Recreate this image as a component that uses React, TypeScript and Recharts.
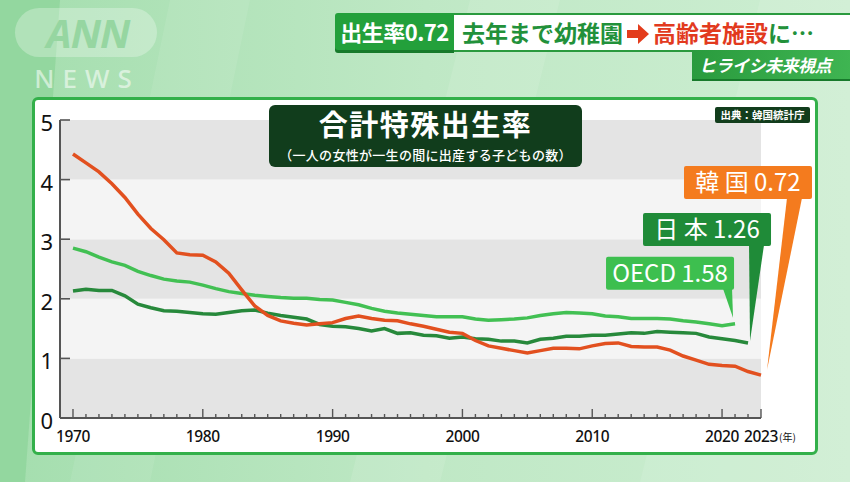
import React from 'react';
import { LineChart, Line, XAxis, YAxis, ReferenceArea, ReferenceDot } from 'recharts';

const years: number[] = [];
for (let y = 1970; y <= 2023; y++) years.push(y);

const koreaTFR = [
  4.43, 4.28, 4.13, 3.93, 3.70, 3.42, 3.18, 2.99, 2.77, 2.74,
  2.73, 2.62, 2.43, 2.15, 1.88, 1.72, 1.63, 1.59, 1.56, 1.58,
  1.60, 1.67, 1.71, 1.67, 1.64, 1.63, 1.58, 1.54, 1.49, 1.44,
  1.42, 1.30, 1.21, 1.17, 1.13, 1.09, 1.13, 1.17, 1.17, 1.16,
  1.21, 1.25, 1.26, 1.20, 1.19, 1.19, 1.14, 1.04, 0.97, 0.90,
  0.88, 0.87, 0.78, 0.72,
];
const japanTFR = [
  2.13, 2.16, 2.14, 2.14, 2.05, 1.91, 1.85, 1.80, 1.79, 1.77,
  1.75, 1.74, 1.77, 1.80, 1.81, 1.76, 1.72, 1.69, 1.66, 1.57,
  1.54, 1.53, 1.50, 1.46, 1.50, 1.42, 1.43, 1.39, 1.38, 1.34,
  1.36, 1.33, 1.32, 1.29, 1.29, 1.26, 1.32, 1.34, 1.37, 1.37,
  1.39, 1.39, 1.41, 1.43, 1.42, 1.45, 1.44, 1.43, 1.42, 1.36,
  1.33, 1.30, 1.26,
];
const oecdTFR = [
  2.85, 2.79, 2.70, 2.62, 2.56, 2.46, 2.39, 2.33, 2.30, 2.28,
  2.23, 2.17, 2.12, 2.09, 2.06, 2.04, 2.02, 2.01, 2.01, 1.99,
  1.98, 1.94, 1.90, 1.84, 1.79, 1.76, 1.74, 1.72, 1.70, 1.70,
  1.70, 1.66, 1.64, 1.65, 1.66, 1.68, 1.72, 1.75, 1.77, 1.76,
  1.75, 1.71, 1.70, 1.67, 1.67, 1.67, 1.66, 1.63, 1.61, 1.58,
  1.55, 1.58,
];
const yTicks = [0, 1, 2, 3, 4, 5];
const xLabelYears = [1970, 1980, 1990, 2000, 2010, 2020, 2023];
const countryNames = { korea: '韓 国', japan: '日 本', oecd: 'OECD' };

const data = years.map((year, i) => ({
  year,
  korea: i < koreaTFR.length ? koreaTFR[i] : null,
  japan: i < japanTFR.length ? japanTFR[i] : null,
  oecd: i < oecdTFR.length ? oecdTFR[i] : null,
}));

const lastOf = (arr: number[]) => ({ year: years[arr.length - 1], value: arr[arr.length - 1] });

const JP = '"Noto Sans CJK JP", "Noto Sans", sans-serif';
const NUM = '"Noto Sans", "DejaVu Sans", sans-serif';

const YTick = (props: any) => {
  const { x, y, payload } = props;
  return (
    <g>
      <line x1={x} x2={x + 10} y1={y} y2={y} stroke="#555" strokeWidth={1.6} />
      <text x={x - 7} y={y + 11} textAnchor="end" fontSize={22} fill="#111" fontFamily={NUM}>
        {payload.value}
      </text>
    </g>
  );
};

const XTick = (props: any) => {
  const { x, y, payload } = props;
  const v = payload.value as number;
  const major = v % 10 === 0 || v === 2023;
  const labeled = xLabelYears.includes(v);
  return (
    <g>
      <line x1={x} x2={x} y1={y} y2={y - (major ? 9 : 4)} stroke="#555" strokeWidth={1.4} />
      {labeled && (
        <text x={x} y={y + 24} textAnchor="middle" fontSize={15.5} fill="#111" fontFamily={NUM}
          fontWeight={500} letterSpacing={-0.4}>
          {v}
        </text>
      )}
      {v === 2023 && (
        <text x={x + 18} y={y + 23} textAnchor="start" fontSize={10} fill="#111" fontFamily={JP}>
          (年)
        </text>
      )}
    </g>
  );
};

const makeCallout = (text: string, fill: string, box: number[], base: number[], tip: number[]) => (p: any) => {
  const cx = p.cx;
  const cy = p.cy;
  const [l, t, r, b] = box;
  return (
    <g>
      <polygon
        points={`${cx + base[0]},${cy + b - 1} ${cx + base[1]},${cy + b - 1} ${cx + tip[0]},${cy + tip[1]}`}
        fill={fill}
      />
      <rect x={cx + l} y={cy + t} width={r - l} height={b - t} fill={fill} rx={2} />
      <text
        x={cx + (l + r) / 2}
        y={cy + (t + b) / 2 + 8.5}
        textAnchor="middle"
        fill="#fff"
        fontSize={24}
        fontFamily={JP}
        fontWeight={400}
      >
        {text}
      </text>
    </g>
  );
};

export default function App() {
  const kLast = lastOf(koreaTFR);
  const jLast = lastOf(japanTFR);
  const oLast = lastOf(oecdTFR);
  const bandFill = (i: number) => (i % 2 === 0 ? '#e4e4e4' : '#f4f4f4');
  const bands = yTicks.slice(0, -1).map((v, i) => ({ y1: v, y2: yTicks[i + 1] }));

  return (
    <div style={{ position: 'absolute', left: 0, top: 0, width: 850, height: 482, overflow: 'hidden' }}>
      {/* background */}
      <svg width={850} height={482} style={{ position: 'absolute', left: 0, top: 0 }}>
        <defs>
          <linearGradient id="bg" x1="0" y1="0" x2="1" y2="0">
            <stop offset="0" stopColor="#a4deae" />
            <stop offset="0.5" stopColor="#bfe8c5" />
            <stop offset="1" stopColor="#cdeed2" />
          </linearGradient>
        </defs>
        <rect x={0} y={0} width={850} height={482} fill="url(#bg)" />
        <polygon points="0,0 60,0 25,482 0,482" fill="#8fd59b" opacity={0.8} />
        <polygon points="170,0 250,0 150,482 70,482" fill="#ffffff" opacity={0.08} />
        <polygon points="470,0 560,0 440,482 350,482" fill="#ffffff" opacity={0.1} />
        <polygon points="760,0 850,0 850,482 640,482" fill="#ffffff" opacity={0.1} />
        {/* ANN logo */}
        <rect x={15} y={8} width={142} height={49} rx={24.5} fill="#ffffff" opacity={0.28} />
        <text x={88} y={48} textAnchor="middle" fontSize={40} fontStyle="italic" fontWeight={700}
          fill="#96d6a1" fontFamily={NUM} letterSpacing={-1}>ANN</text>
        <text x={87} y={88} textAnchor="middle" fontSize={26} fill="#ffffff" opacity={0.55}
          fontFamily={NUM} fontWeight={500} letterSpacing={8}>NEWS</text>
      </svg>

      {/* top banner */}
      <div style={{ position: 'absolute', left: 335, top: 13, width: 119, height: 37, background: '#23a03b',
        borderRadius: '3px 0 0 3px', boxShadow: '0 3px 0 #177a2b', color: '#fff', fontFamily: JP, fontWeight: 700,
        fontSize: 22, lineHeight: '37px', textAlign: 'center', letterSpacing: -0.5 }}>出生率0.72</div>
      <div style={{ position: 'absolute', left: 454, top: 13, width: 400, height: 35, background: '#fff',
        borderTop: '2px solid #2a9a3e', boxShadow: '0 2px 0 #2a9a3e', fontFamily: JP, fontWeight: 700,
        fontSize: 23, lineHeight: '35px', whiteSpace: 'nowrap' }}>
        <span style={{ marginLeft: 8, color: '#22913a' }}>去年まで幼稚園</span>
        <svg width={24} height={20} style={{ margin: '0 3px 0 3px', verticalAlign: '-2px' }}>
          <polygon points="1,6 12,6 12,0 23,10 12,20 12,14 1,14" fill="#e33c1c" />
        </svg>
        <span style={{ color: '#e23a1e' }}>高齢者施設</span>
        <span style={{ color: '#22913a' }}>に…</span>
      </div>
      <div style={{ position: 'absolute', left: 692, top: 50, width: 160, height: 29,
        background: 'linear-gradient(90deg, #2a9b3e, #3fb552)', boxShadow: '0 2px 0 #177a2b',
        color: '#fff', fontFamily: JP, fontWeight: 700, fontSize: 17, lineHeight: '29px', paddingLeft: 7,
        fontStyle: 'italic', boxSizing: 'border-box', letterSpacing: -0.5 }}>ヒライシ未来視点</div>

      {/* panel */}
      <div style={{ position: 'absolute', left: 32, top: 97, width: 786, height: 358, background: '#fff',
        border: '3px solid #33b04a', borderRadius: 6, boxSizing: 'border-box' }} />

      <div style={{ position: 'absolute', left: 0, top: 0 }}>
        <LineChart width={850} height={482} data={data} margin={{ top: 120, right: 89, bottom: 34, left: 20 }}>
          {bands.map((b, i) => (
            <ReferenceArea key={i} y1={b.y1} y2={b.y2} fill={bandFill(bands.length - 1 - i)} fillOpacity={1}
              stroke="none" ifOverflow="extendDomain" />
          ))}
          <XAxis dataKey="year" type="number" domain={[1969, 2023]} ticks={years} interval={0}
            tickSize={0} tickMargin={0} tick={<XTick />} stroke="#555" strokeWidth={2} height={30} />
          <YAxis type="number" domain={[0, 5]} ticks={yTicks} interval={0} tickSize={0} tickMargin={0}
            tick={<YTick />} stroke="#555" strokeWidth={2} width={40} />
          <Line dataKey="oecd" stroke="#42c053" strokeWidth={3.5} dot={false} isAnimationActive={false}
            connectNulls={false} />
          <Line dataKey="japan" stroke="#27893b" strokeWidth={3.5} dot={false} isAnimationActive={false}
            connectNulls={false} />
          <Line dataKey="korea" stroke="#e2501f" strokeWidth={3.5} dot={false} isAnimationActive={false}
            connectNulls={false} />
          <ReferenceDot x={oLast.year} y={oLast.value} r={0} ifOverflow="visible"
            shape={makeCallout(`${countryNames.oecd} ${oLast.value.toFixed(2)}`, '#3dbf4f', [-129, -67, -1, -34], [-12, -3], [-2, -6])} />
          <ReferenceDot x={jLast.year} y={jLast.value} r={0} ifOverflow="visible"
            shape={makeCallout(`${countryNames.japan} ${jLast.value.toFixed(2)}`, '#1f8b38', [-105, -130, 23, -97], [1, 16], [2, -2])} />
          <ReferenceDot x={kLast.year} y={kLast.value} r={0} ifOverflow="visible"
            shape={makeCallout(`${countryNames.korea} ${kLast.value.toFixed(2)}`, '#f47b1e', [-77, -209, 51, -176], [26, 41], [6, -5])} />
        </LineChart>
      </div>

      {/* title */}
      <div style={{ position: 'absolute', left: 269, top: 105, width: 313, height: 62, background: '#113d1c',
        borderRadius: 6, color: '#fff', fontFamily: JP, textAlign: 'center' }}>
        <div style={{ fontSize: 29, fontWeight: 700, lineHeight: '32px', marginTop: 2, letterSpacing: 1.5 }}>合計特殊出生率</div>
        <div style={{ fontSize: 13, fontWeight: 500, lineHeight: '16px', marginTop: 8, letterSpacing: 0.3 }}>（一人の女性が一生の間に出産する子どもの数）</div>
      </div>
      <div style={{ position: 'absolute', left: 715, top: 107, width: 95, height: 16, background: '#123d1c',
        borderRadius: 2, color: '#fff', fontFamily: JP, fontWeight: 700, fontSize: 10.5, lineHeight: '16px',
        textAlign: 'center' }}>出典：韓国統計庁</div>
    </div>
  );
}
